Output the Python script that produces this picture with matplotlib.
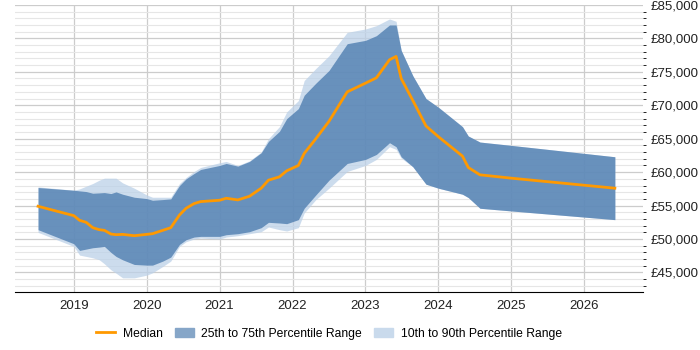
import matplotlib
matplotlib.use("Agg")
import matplotlib.pyplot as plt
from matplotlib.patches import Patch
from matplotlib.lines import Line2D
from matplotlib.ticker import FuncFormatter, MultipleLocator

# dates (decimal years) and salary values in £k
dates = [2018.51, 2019.0, 2019.08, 2019.17, 2019.26, 2019.35, 2019.42, 2019.51, 2019.58,
         2019.67, 2019.83, 2020.0, 2020.08, 2020.22, 2020.33, 2020.45, 2020.54, 2020.65,
         2020.74, 2021.0, 2021.09, 2021.25, 2021.41, 2021.57, 2021.67, 2021.82, 2021.92,
         2022.08, 2022.16, 2022.32, 2022.5, 2022.75, 2023.0, 2023.15, 2023.33, 2023.42,
         2023.49, 2023.65, 2023.83, 2024.0, 2024.33, 2024.41, 2024.57, 2025.0, 2026.42]
median = [54.9, 53.5, 52.8, 52.5, 51.7, 51.4, 51.3, 50.75, 50.65, 50.7, 50.5, 50.7, 50.8,
          51.3, 51.7, 53.6, 54.6, 55.3, 55.6, 55.8, 56.1, 55.85, 56.4, 57.6, 58.8, 59.3,
          60.2, 61.0, 62.8, 65.0, 67.6, 72.0, 73.3, 74.1, 76.8, 77.3, 74.0, 70.7, 66.9,
          65.3, 62.4, 60.7, 59.6, 59.1, 57.6]
p75 = [57.7, 57.3, 57.2, 57.1, 56.85, 56.9, 56.95, 56.8, 57.05, 56.7, 56.25, 56.05, 55.8,
       55.9, 56.0, 58.0, 59.0, 59.8, 60.4, 61.0, 61.3, 60.9, 61.6, 62.9, 64.6, 66.1, 68.0,
       69.5, 71.5, 73.3, 75.2, 79.2, 79.7, 80.4, 82.0, 82.0, 78.2, 74.4, 71.0, 69.7, 66.8,
       65.4, 64.5, 64.0, 62.3]
p25 = [51.4, 49.3, 48.3, 48.5, 48.7, 48.8, 48.9, 48.0, 47.4, 46.9, 46.2, 46.1, 46.1, 46.7,
       47.3, 49.2, 49.9, 50.3, 50.4, 50.4, 50.65, 50.8, 51.1, 51.7, 52.5, 52.4, 52.3, 52.9,
       54.6, 56.6, 58.8, 61.3, 61.9, 62.65, 64.4, 63.8, 62.3, 60.8, 58.2, 57.6, 56.7, 56.2,
       54.6, 54.2, 52.9]
p90 = [57.8, 57.3, 57.5, 57.9, 58.3, 58.8, 59.1, 59.1, 59.1, 58.4, 57.6, 56.6, 56.25, 56.25,
       56.25, 58.3, 59.2, 60.1, 60.7, 61.4, 61.6, 61.0, 61.7, 63.0, 65.0, 66.8, 69.0, 70.7,
       73.7, 75.5, 77.4, 80.9, 81.4, 81.9, 82.9, 82.55, 78.2, 74.4, 71.0, 69.7, 66.8, 65.4,
       64.5, 64.0, 62.3]
p10 = [51.0, 48.9, 47.6, 47.4, 47.2, 46.9, 46.3, 45.4, 44.9, 44.2, 44.2, 44.6, 44.95, 45.9,
       46.7, 48.9, 49.6, 50.0, 50.15, 50.0, 50.3, 50.5, 50.8, 51.1, 51.8, 51.4, 51.2, 51.7,
       53.9, 55.9, 57.6, 60.1, 61.0, 61.9, 63.8, 63.4, 62.1, 60.8, 58.2, 57.6, 56.7, 56.2,
       54.6, 54.2, 52.9]

year_ticks = [2019, 2020, 2021, 2022, 2023, 2024, 2025, 2026]

k = lambda vals: [v * 1000 for v in vals]

plt.rcParams['font.family'] = ['Liberation Sans', 'DejaVu Sans']

fig = plt.figure(figsize=(7, 3.5), dpi=100)
ax = fig.add_axes([0.021, 0.166, 0.898, 0.82])

light = "#c9daec"
dark = "#4c7caf"
orange = "#ff9900"

# semi-transparent bands so the grid shows through like in the original
ax.fill_between(dates, k(p10), k(p90), color="#bcd1e8", alpha=0.75, lw=0, zorder=2)
ax.fill_between(dates, k(p25), k(p75), color=dark, alpha=0.78, lw=0, zorder=3)
ax.plot(dates, k(median), color=orange, lw=2, zorder=4)

ax.set_xlim(2018.19, 2026.81)
ax.set_ylim(42100, 85000)
ax.set_xticks(year_ticks)
ax.set_xticklabels([str(y) for y in year_ticks])
ax.yaxis.set_major_locator(MultipleLocator(5000))
ax.yaxis.set_minor_locator(MultipleLocator(1000))
ax.yaxis.set_major_formatter(FuncFormatter(lambda v, p: "£{:,.0f}".format(v)))
ax.yaxis.tick_right()
ax.tick_params(axis="both", length=0, labelsize=9.5, colors="#222222")
ax.tick_params(axis="y", pad=5)
ax.tick_params(axis="x", pad=6)

ax.grid(True, which="major", axis="both", color="#cccccc", lw=0.9, zorder=1)
ax.grid(True, which="minor", axis="y", color="#e6e6e6", lw=0.8, zorder=1)
for s in ["top", "left", "right"]:
    ax.spines[s].set_visible(False)
ax.spines["bottom"].set_color("#000000")
ax.spines["bottom"].set_zorder(5)

handles = [Line2D([0], [0], color=orange, lw=2),
           Patch(color="#86a6c8"),
           Patch(color=light)]
labels = ["Median", "25th to 75th Percentile Range", "10th to 90th Percentile Range"]
fig.legend(handles, labels, loc="center", bbox_to_anchor=(0.47, 0.047), ncol=3,
           frameon=False, fontsize=8.7, handlelength=1.6, columnspacing=1.0, handletextpad=0.6)

fig.savefig("out.png", dpi=100)
